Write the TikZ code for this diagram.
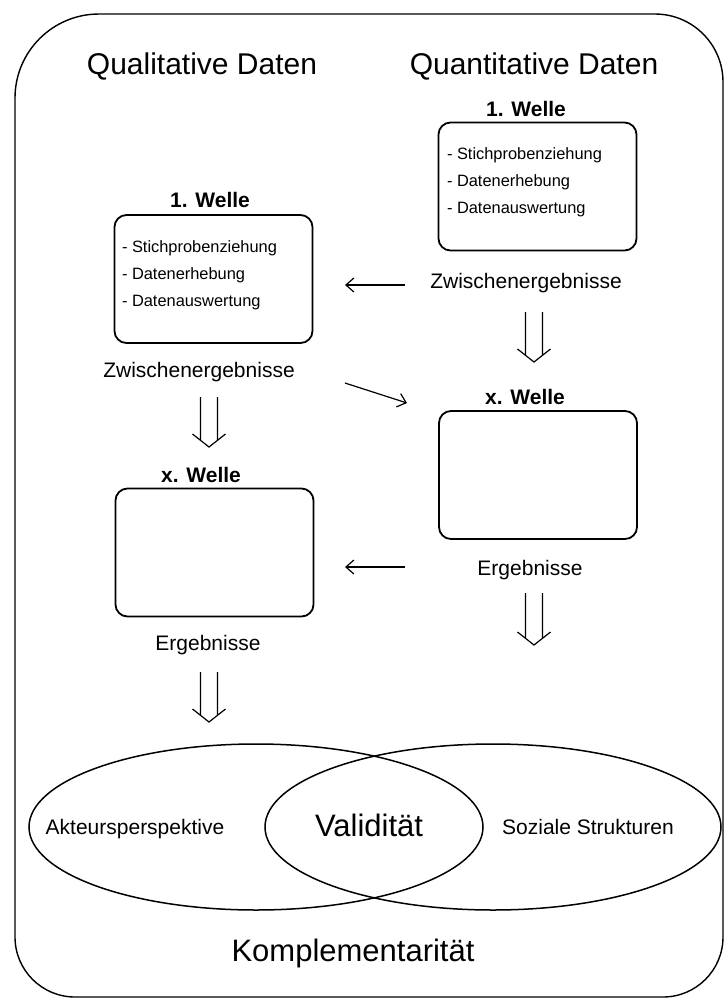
\documentclass[tikz,border=0pt]{standalone}
\usepackage{fontspec}
\setmainfont{Liberation Sans}
\usetikzlibrary{arrows.meta}

\tikzset{
    heading/.style={font=\fontsize{15}{18}\selectfont, anchor=base, inner sep=0pt},
    welle/.style={font=\bfseries\fontsize{10.5}{12}\selectfont, anchor=base, inner sep=0pt},
    stage/.style={draw, rounded corners=6pt, line width=0.9pt, minimum width=99pt, minimum height=64pt},
    item/.style={font=\fontsize{8.2}{10}\selectfont, anchor=base west, inner sep=0pt},
    result/.style={font=\fontsize{10.5}{12}\selectfont, anchor=base, inner sep=0pt},
    thinarr/.style={line width=0.6pt, -{Straight Barb[length=4pt,width=7pt]}},
    dblarr/.style={line width=0.6pt, line join=miter, to path={
        ([xshift=-4.25pt]\tikztostart) -- ([xshift=-4.25pt,yshift=3.3pt]\tikztotarget)
        ([xshift=4.25pt]\tikztostart) -- ([xshift=4.25pt,yshift=3.3pt]\tikztotarget)
        ([xshift=-8.25pt,yshift=6.5pt]\tikztotarget) -- (\tikztotarget)
        -- ([xshift=8.25pt,yshift=6.5pt]\tikztotarget)}},
}

\begin{document}
\begin{tikzpicture}[x=0.5pt, y=-0.5pt]
\useasboundingbox (0,0) rectangle (725,1003);

% outer frame
\draw[line width=0.7pt] (15,500) [rounded corners=42pt] -- (15,14)
    [rounded corners=34pt] -- (723,14) [rounded corners=30pt] -- (723,997)
    -- (15,997) -- cycle;

% column headings
\node[heading] (qualh) at (202,74) {Qualitative Daten};
\node[heading] (quanth) at (534,74) {Quantitative Daten};

% quantitative column
\node[welle] (w1r) at (526,116) {1. Welle};
\node[stage] (b1r) at (537.5,186.5) {};
\foreach \txt [count=\i] in {Stichprobenziehung, Datenerhebung, Datenauswertung}
    \node[item] (b1r-\i) at ([shift={(9,11+27*\i)}]b1r.north west) {- \txt};
\node[result] (zr) at (526,288) {Zwischenergebnisse};
\node[welle] (wxr) at (525,404) {x. Welle};
\node[stage] (bxr) at (538,475) {};
\node[result] (er) at (530,575) {Ergebnisse};

% qualitative column
\node[welle] (w1l) at (210,207) {1. Welle};
\node[stage] (b1l) at (213.5,279) {};
\foreach \txt [count=\i] in {Stichprobenziehung, Datenerhebung, Datenauswertung}
    \node[item] (b1l-\i) at ([shift={(8,11+27*\i)}]b1l.north west) {- \txt};
\node[result] (zl) at (199,377) {Zwischenergebnisse};
\node[welle] (wxl) at (201,482) {x. Welle};
\node[stage] (bxl) at (214.5,552.5) {};
\node[result] (el) at (208,650) {Ergebnisse};

% arrow ends
\coordinate (a1s) at (405,285);
\coordinate (a1e) at (345,285);
\coordinate (a2s) at (345,383);
\coordinate (a2e) at (407,403);
\coordinate (a3s) at (405,567);
\coordinate (a3e) at (345,567);
\coordinate (d1s) at (534,312);
\coordinate (d1e) at (534,362);
\coordinate (d2s) at (534,593);
\coordinate (d2e) at (534,645);
\coordinate (d3s) at (209,397);
\coordinate (d3e) at (209,447);
\coordinate (d4s) at (209,672);
\coordinate (d4e) at (209,722);

\draw[thinarr] (a1s) -- (a1e);
\draw[thinarr] (a2s) -- (a2e);
\draw[thinarr] (a3s) -- (a3e);
\draw[dblarr] (d1s) to (d1e);
\draw[dblarr] (d2s) to (d2e);
\draw[dblarr] (d3s) to (d3e);
\draw[dblarr] (d4s) to (d4e);

% overlapping perspectives
\draw[line width=0.75pt] (256,827) ellipse [x radius=227, y radius=83];
\draw[line width=0.75pt] (493,827) ellipse [x radius=228, y radius=83];
\node[result] (akteur) at (135,834) {Akteursperspektive};
\node[heading, font=\fontsize{15.5}{18}\selectfont] (valid) at (369,836) {Validität};
\node[result] (sozial) at (588,834) {Soziale Strukturen};
\node[heading, font=\fontsize{15.5}{18}\selectfont] (kompl) at (353,961) {Komplementarität};
\end{tikzpicture}
\end{document}
